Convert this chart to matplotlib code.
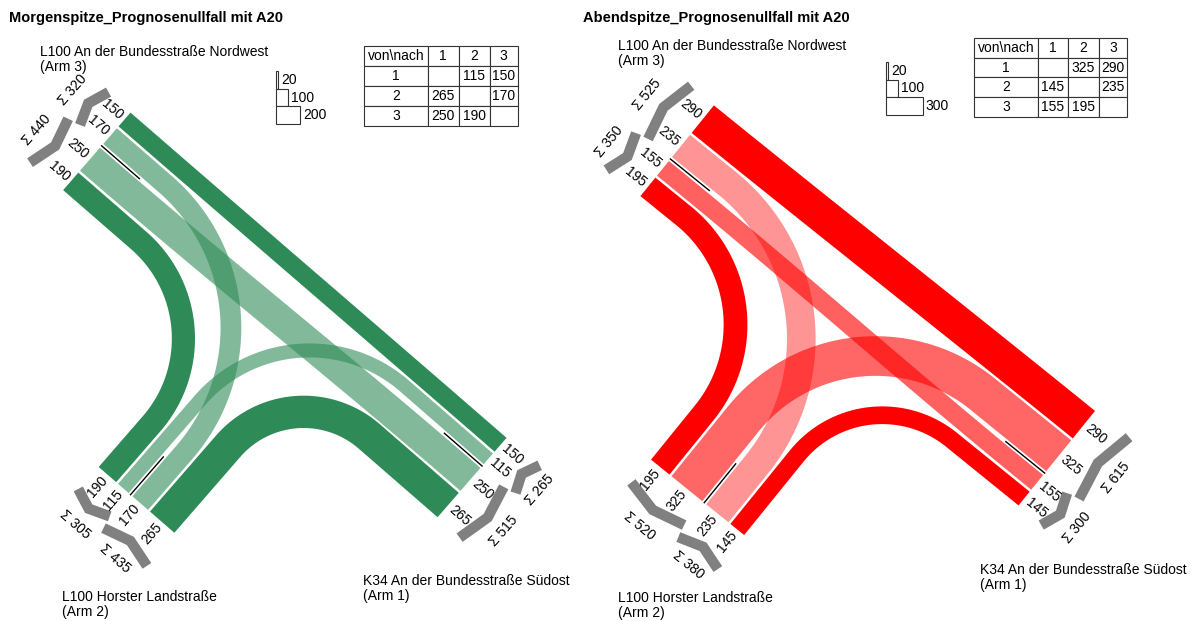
import numpy as np
import matplotlib.pyplot as plt
from matplotlib.patches import Polygon, Rectangle
from matplotlib.lines import Line2D

plt.rcParams['font.family'] = ['Liberation Sans', 'DejaVu Sans']

# Strombelastungen (Kfz/h): von Arm -> nach Arm
von = [1, 1, 2, 2, 3, 3]
nach = [2, 3, 1, 3, 1, 2]
morgen_werte = [115, 150, 265, 170, 250, 190]
abend_werte = [325, 290, 145, 235, 155, 195]

legende_morgen = [20, 100, 200]
legende_abend = [20, 100, 300]

arme = [1, 2, 3]
titel = ['Morgenspitze_Prognosenullfall mit A20', 'Abendspitze_Prognosenullfall mit A20']
arm_namen = {1: 'K34 An der Bundesstraße Südost\n(Arm 1)',
             2: 'L100 Horster Landstraße\n(Arm 2)',
             3: 'L100 An der Bundesstraße Nordwest\n(Arm 3)'}

W, H = 1193, 621
SKALA = 0.122        # px pro Kfz/h
LUECKE = 2.5
LUECKE_MITTE = 5.0

# lokales System: u entlang Hauptstrasse (Arm 3 -> Arm 1), v Richtung Arm 2
aussen = {1: np.array([1.0, 0.0]), 2: np.array([0.0, 1.0]), 3: np.array([-1.0, 0.0])}
quer = {1: np.array([0.0, 1.0]), 2: np.array([1.0, 0.0]), 3: np.array([0.0, 1.0])}
reihenfolge = {3: [[(1, 3), (2, 3)], [(3, 1), (3, 2)]],
               1: [[(1, 3), (1, 2)], [(3, 1), (2, 1)]],
               2: [[(3, 2), (1, 2)], [(2, 3), (2, 1)]]}

diagramme = [
    dict(werte=morgen_werte, legende=legende_morgen, farbe='#2e8b57',
         alpha={(1, 2): 0.6, (2, 3): 0.6, (3, 1): 0.6},
         C=(292, 321), theta=41, L={1: 238.6, 2: 237, 3: 258.6},
         radius={(3, 2): 130, (2, 3): 190, (2, 1): 100, (1, 2): 145},
         titel_xy=(9, 18), namen_xy={3: (40, 45), 2: (62, 590), 1: (363, 574)},
         tab=(364, 46, 518, 126), leg_xy=(276, 71)),
    dict(werte=abend_werte, legende=legende_abend, farbe='#ff0000',
         alpha={(1, 2): 0.6, (2, 3): 0.42, (3, 1): 0.62},
         C=(859, 298), theta=39, L={1: 254.5, 2: 256.5, 3: 234},
         radius={(3, 2): 140, (2, 3): 200, (2, 1): 110, (1, 2): 170},
         titel_xy=(583, 18), namen_xy={3: (618, 39), 2: (618, 591), 1: (980, 563)},
         tab=(974, 38, 1127, 117), leg_xy=(886, 62)),
]


def bildschirm(d, pts):
    th = np.radians(d['theta'])
    U = np.array([np.cos(th), np.sin(th)])
    V = np.array([-np.sin(th), np.cos(th)])
    pts = np.atleast_2d(pts)
    return np.array(d['C']) + pts[:, :1] * U + pts[:, 1:2] * V


def querlage(werte, arm):
    gruppen = reihenfolge[arm]
    gesamt = sum(werte[f] for g in gruppen for f in g) * SKALA + 2 * LUECKE + LUECKE_MITTE
    pos = -gesamt / 2
    lage, spannen = {}, []
    mitte = 0
    for gi, g in enumerate(gruppen):
        lo = pos
        for k, f in enumerate(g):
            w = werte[f] * SKALA
            lage[f] = pos + w / 2
            pos += w
            if k == 0:
                pos += LUECKE
        spannen.append((lo, pos))
        if gi == 0:
            mitte = pos + LUECKE_MITTE / 2
            pos += LUECKE_MITTE
    return lage, spannen, mitte


def mittellinie(d, f, lagen):
    a, b = f
    p0 = d['L'][a] * aussen[a] + lagen[a][f] * quer[a]
    p3 = d['L'][b] * aussen[b] + lagen[b][f] * quer[b]
    d0 = -aussen[a]
    d1 = aussen[b]
    if abs(np.dot(d0, d1)) > 0.5:
        t = np.linspace(0, 1, 80)[:, None]
        k = np.linalg.norm(p3 - p0) / 3
        p1, p2 = p0 + d0 * k, p3 - d1 * k
        return (1 - t)**3 * p0 + 3 * (1 - t)**2 * t * p1 + 3 * (1 - t) * t**2 * p2 + t**3 * p3
    q = p0 + d0 * np.dot(p3 - p0, d0)
    r = d['radius'][f]
    t0, t1 = q - d0 * r, q + d1 * r
    m = t0 + d1 * r
    phi = np.linspace(0, np.pi / 2, 60)[:, None]
    bogen = m - d1 * r * np.cos(phi) + d0 * r * np.sin(phi)
    s0 = p0 + (t0 - p0) * np.linspace(0, 1, 10, endpoint=False)[:, None]
    s1 = t1 + (p3 - t1) * np.linspace(0, 1, 10)[1:, None]
    return np.vstack([s0, bogen, s1])


def band(pts, w):
    tang = np.gradient(pts, axis=0)
    tang /= np.linalg.norm(tang, axis=1, keepdims=True)
    n = np.column_stack([-tang[:, 1], tang[:, 0]])
    return np.vstack([pts + n * w / 2, (pts - n * w / 2)[::-1]])


fig = plt.figure(figsize=(W / 100, H / 100), dpi=100)
ax = fig.add_axes([0, 0, 1, 1])
ax.set_xlim(0, W)
ax.set_ylim(H, 0)
ax.axis('off')

for i, d in enumerate(diagramme):
    werte = dict(zip(zip(von, nach), d['werte']))
    info = {arm: querlage(werte, arm) for arm in arme}
    lagen = {arm: info[arm][0] for arm in arme}
    th = d['theta']

    # Verkehrsbaender
    for f, w in werte.items():
        pts = band(mittellinie(d, f, lagen), w * SKALA)
        ax.add_patch(Polygon(bildschirm(d, pts), closed=True, facecolor=d['farbe'],
                             alpha=d['alpha'].get(f, 1.0), edgecolor='none'))

    for arm in arme:
        L = d['L'][arm]
        lage, spannen, mitte = info[arm]
        # Trennlinie
        p = bildschirm(d, [L * aussen[arm] + mitte * quer[arm],
                           (L - 50) * aussen[arm] + mitte * quer[arm]])
        ax.plot(p[:, 0], p[:, 1], color='black', lw=1.0)

        # Zahlen an den Bandenden
        rot = -th if arm in (1, 3) else 90 - th
        ha = 'left' if arm == 1 else 'right'
        for f, s in lage.items():
            x, y = bildschirm(d, (L + 4) * aussen[arm] + s * quer[arm])[0]
            ax.text(x, y, str(werte[f]), rotation=rot, rotation_mode='anchor',
                    ha=ha, va='center', fontsize=10)

        # Summenpfeile
        srot = 90 - th if arm in (1, 3) else -th
        for g, (lo, hi) in zip(reihenfolge[arm], spannen):
            raus = g[0][1] == arm
            e, vx = (30, 38) if raus else (43, 35)
            mid = (lo + hi) / 2
            p = bildschirm(d, [(L + e) * aussen[arm] + (lo - 1) * quer[arm],
                               (L + vx) * aussen[arm] + mid * quer[arm],
                               (L + e) * aussen[arm] + (hi + 1) * quer[arm]])
            ax.add_line(Line2D(p[:, 0], p[:, 1], color='#808080', lw=7.5,
                               solid_joinstyle='miter', solid_capstyle='butt'))
            x, y = bildschirm(d, (L + 59) * aussen[arm] + mid * quer[arm])[0]
            ax.text(x, y, 'Σ ' + str(sum(werte[f] for f in g)), rotation=srot,
                    rotation_mode='anchor', ha='center', va='center', fontsize=10)

        nx, ny = d['namen_xy'][arm]
        ax.text(nx, ny, arm_namen[arm], ha='left', va='top', fontsize=10, linespacing=1.1)

    ax.text(*d['titel_xy'], titel[i], fontsize=10.5, fontweight='bold', ha='left', va='center')

    # Legende
    lx, ly = d['leg_xy']
    for k, val in enumerate(d['legende']):
        bw = val * SKALA
        y = ly + k * 17.5
        ax.add_patch(Rectangle((lx, y), bw, 17.5, facecolor='white', edgecolor='#333333', lw=0.8))
        ax.text(lx + bw + 3, y + 9, str(val), ha='left', va='center', fontsize=10)

    # Matrix
    zellen = [['von\\nach', '1', '2', '3']]
    for z in arme:
        zellen.append([str(z)] + ['' if z == s else str(werte[(z, s)]) for s in arme])
    x0, y0, x1, y1 = d['tab']
    tab = ax.table(cellText=zellen, cellLoc='center', colWidths=[64, 30.5, 31, 28.5],
                   bbox=[x0 / W, (H - y1) / H, (x1 - x0) / W, (y1 - y0) / H])
    tab.auto_set_font_size(False)
    tab.set_fontsize(10)
    for c in tab.get_celld().values():
        c.set_linewidth(0.8)
        c.set_edgecolor('#333333')

fig.savefig('out.png', dpi=100)
